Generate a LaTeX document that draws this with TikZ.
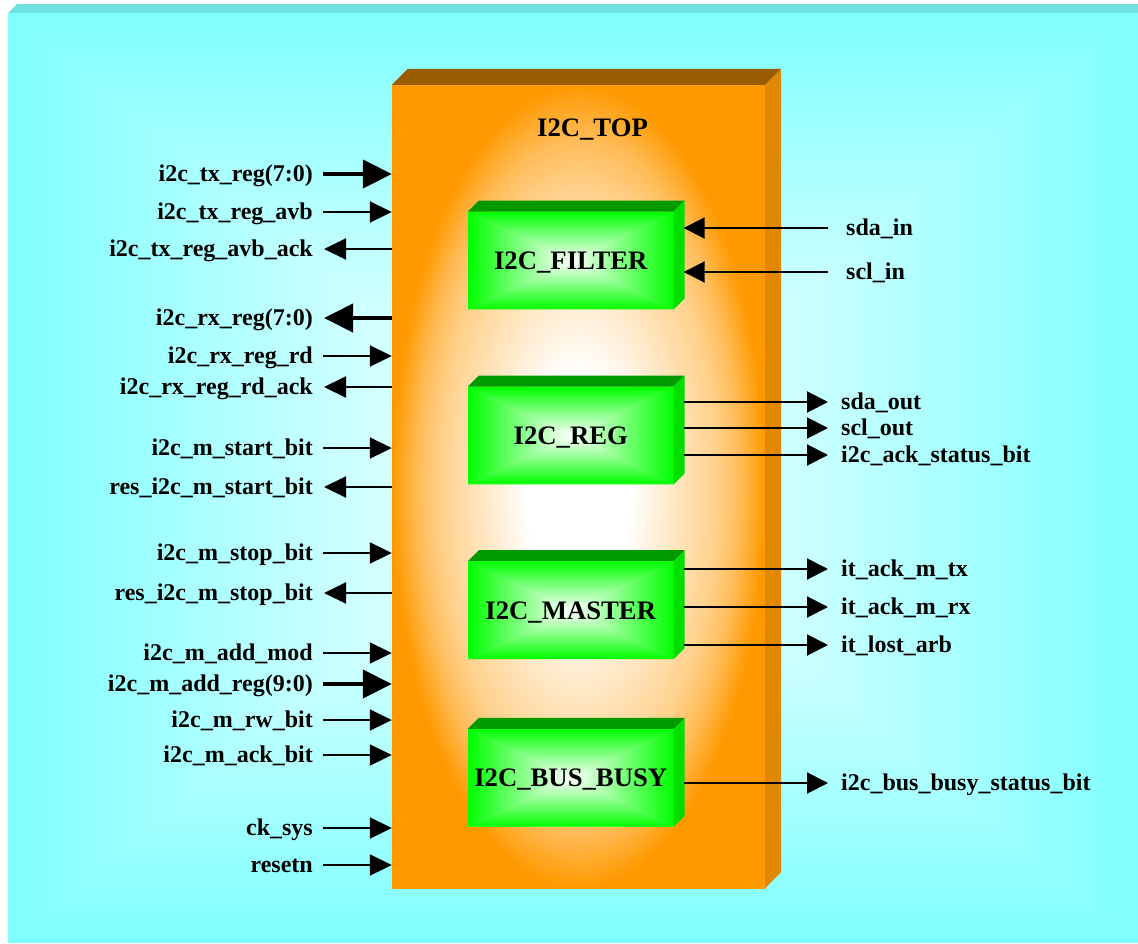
\documentclass[tikz,border=0pt]{standalone}
\usepackage{fontspec}
\setmainfont{Liberation Serif}
\usetikzlibrary{calc,arrows.meta}
\definecolor{bgcyan}{HTML}{7FFFFF}
\definecolor{bgtop}{HTML}{70E0E0}
\definecolor{toporange}{HTML}{FF9900}
\definecolor{topdark}{HTML}{995C00}
\definecolor{topside}{HTML}{E08800}
\definecolor{blkgreen}{HTML}{00FF00}
\definecolor{blktop}{HTML}{009900}
\definecolor{blkside}{HTML}{00DD00}
\pgfdeclareradialshading{orangeglow}{\pgfpoint{0bp}{0bp}}{color(0bp)=(white); color(7bp)=(white);
	color(14.5bp)=(toporange!30!white); color(18.5bp)=(toporange!45!white); color(21.5bp)=(toporange!65!white);
	color(25bp)=(toporange); color(50bp)=(toporange)}
\tikzset{
	% gradient from the edges of a box to white in its centre
	rectglow/.style={fill=#1!50!white, path picture={
			\path (path picture bounding box.north west) coordinate (gnw)
			(path picture bounding box.north east) coordinate (gne)
			(path picture bounding box.south west) coordinate (gsw)
			(path picture bounding box.south east) coordinate (gse)
			(path picture bounding box.center) coordinate (gc);
			\shade[top color=#1, bottom color=white] (gnw) -- (gne) -- (gc) -- cycle;
			\shade[bottom color=#1, top color=white] (gsw) -- (gse) -- (gc) -- cycle;
			\shade[left color=#1, right color=white] (gnw) -- (gsw) -- (gc) -- cycle;
			\shade[right color=#1, left color=white] (gne) -- (gse) -- (gc) -- cycle;
	}}
}

\begin{document}
\begin{tikzpicture}[
		x=1pt, y=-1pt,
		lbl/.style={font=\bfseries\fontsize{24}{28}\selectfont, inner sep=0pt},
		blk/.style={rectglow=blkgreen, minimum width=205.5pt, minimum height=97.6pt,
			inner sep=0pt, text depth=0pt, font=\bfseries\fontsize{26.7}{30}\selectfont},
		sigin/.style={line width=2pt, -{Triangle[length=22pt,width=21pt]}, shorten <=10pt},
		sigout/.style={line width=2pt, {Triangle[length=22pt,width=21pt]}-, shorten <=11pt},
		busin/.style={line width=4pt, -{Triangle[length=29pt,width=28pt]}, shorten <=10pt},
		busout/.style={line width=4pt, {Triangle[length=29pt,width=28pt]}-, shorten <=11pt},
		rsigout/.style={line width=2pt, -{Triangle[length=21pt,width=21pt]}, shorten >=13pt},
		rsigin/.style={line width=2pt, {Triangle[length=21pt,width=21pt]}-, shorten >=18pt}
		]
		\useasboundingbox (0,0) rectangle (1138,943);
		
		% background panel
		\fill[bgtop] (8,13) -- (17,4) -- (1138,4) -- (1138,13) -- cycle;
		\path[rectglow=bgcyan] (8,13) rectangle (1138,943);
		
		% I2C_TOP block
		\node[shade, shading=orangeglow, minimum width=373pt, minimum height=803pt, inner sep=0pt] (top) at (578.5,486.5) {};
		\fill[topdark] (top.north west) -- ++(16,-16) -- ($(top.north east)+(16,-16)$) -- (top.north east) -- cycle;
		\fill[topside] (top.north east) -- ++(16,-16) -- ($(top.south east)+(16,-16)$) -- (top.south east) -- cycle;
		\node[anchor=base, font=\bfseries\fontsize{26.7}{30}\selectfont] (toplbl) at (592.5,136.7) {I2C\_TOP};
		
		% sub blocks
		\node[blk] (filter) at (570.75,260.5) {I2C\_FILTER};
		\node[blk] (reg) at (570.75,435.5) {I2C\_REG};
		\node[blk] (master) at (570.75,610.2) {I2C\_MASTER};
		\node[blk] (busy) at (570.75,777.9) {I2C\_BUS\_BUSY};
		\foreach \b in {filter,reg,master,busy} {
			\fill[blktop] (\b.north west) -- ++(11,-11) -- ($(\b.north east)+(11,-11)$) -- (\b.north east) -- cycle;
			\fill[blkside] (\b.north east) -- ++(11,-11) -- ($(\b.south east)+(11,-11)$) -- (\b.south east) -- cycle;
		}
		
		% left side signals
		\foreach \y/\txt/\kind [count=\i] in {
			174/i2c\_tx\_reg(7:0)/busin,
			212/i2c\_tx\_reg\_avb/sigin,
			249/i2c\_tx\_reg\_avb\_ack/sigout,
			318/i2c\_rx\_reg(7:0)/busout,
			356/i2c\_rx\_reg\_rd/sigin,
			387/i2c\_rx\_reg\_rd\_ack/sigout,
			448/i2c\_m\_start\_bit/sigin,
			487/res\_i2c\_m\_start\_bit/sigout,
			553/i2c\_m\_stop\_bit/sigin,
			593/res\_i2c\_m\_stop\_bit/sigout,
			653/i2c\_m\_add\_mod/sigin,
			684/i2c\_m\_add\_reg(9:0)/busin,
			720/i2c\_m\_rw\_bit/sigin,
			755/i2c\_m\_ack\_bit/sigin,
			828/ck\_sys/sigin,
			865/resetn/sigin} {
			\node[lbl, anchor=base east] (l\i) at (313,\y+7) {\txt};
			\coordinate (lc\i) at (313,\y);
			\draw[\kind] (lc\i) -- (lc\i -| top.west);
		}
		
		% right side signals
		\foreach \b/\x/\y/\txt/\kind [count=\i] in {
			filter/846/228/sda\_in/rsigin,
			filter/846/272/scl\_in/rsigin,
			reg/841/402/sda\_out/rsigout,
			reg/841/428/scl\_out/rsigout,
			reg/841/455/i2c\_ack\_status\_bit/rsigout,
			master/841/569/it\_ack\_m\_tx/rsigout,
			master/841/607/it\_ack\_m\_rx/rsigout,
			master/841/645/it\_lost\_arb/rsigout,
			busy/841/783/i2c\_bus\_busy\_status\_bit/rsigout} {
			\node[lbl, anchor=base west] (r\i) at (\x,\y+7) {\txt};
			\coordinate (rc\i) at (\x,\y);
			\draw[\kind] ($(\b.east |- rc\i)+(10,0)$) -- (rc\i);
		}
		
	\end{tikzpicture}
\end{document}
